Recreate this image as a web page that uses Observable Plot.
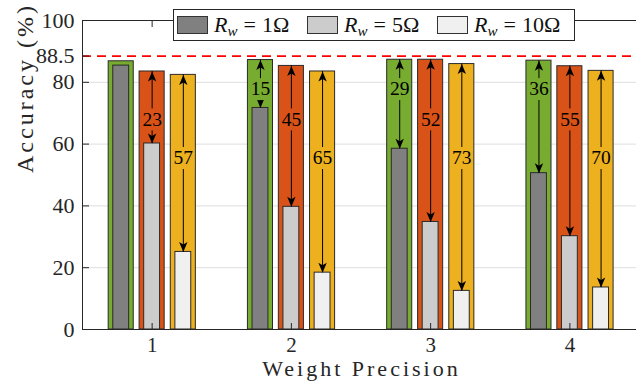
<!DOCTYPE html>
<html>
<head>
<meta charset="utf-8">
<script src="https://cdn.jsdelivr.net/npm/d3@7"></script>
<script src="https://cdn.jsdelivr.net/npm/@observablehq/plot@0.6"></script>
<style>
  html, body { margin: 0; padding: 0; background: #fff; }
  #wrap { position: relative; width: 636px; height: 386px; overflow: hidden; }
  #wrap svg text { font-family: 'Liberation Serif', 'Times New Roman', serif; }
  #legend {
    position: absolute; left: 173px; top: 9px; width: 400px; height: 30px;
    background: #fff; border: 1px solid #262626;
    font-family: 'Liberation Serif', 'Times New Roman', serif; font-size: 22px; color: #111;
  }
  .entry { position: absolute; top: 5px; height: 20px; display: flex; align-items: center; white-space: nowrap; }
  .sw { width: 31px; height: 18px; border: 1px solid #333; margin-right: 6px; box-sizing: border-box; }
  .entry sub { font-size: 15px; vertical-align: -4px; line-height: 0; }
  .eq { padding: 0 6px; }
</style>
</head>
<body>
<div id="wrap"></div>
<script>
// ---- data ----
const precision = [1, 2, 3, 4];
const seriesNames = ["1Ω", "5Ω", "10Ω"];
// ideal (wide, coloured) bars
const ideal1 = [86.8, 87.2, 87.3, 87.0];
const ideal5 = [83.5, 85.3, 87.3, 85.2];
const ideal10 = [82.4, 83.5, 85.9, 83.7];
// degraded (narrow) bars
const rw1 = [85.4, 71.7, 58.5, 50.6];
const rw5 = [60.2, 39.7, 34.8, 30.2];
const rw10 = [25.1, 18.4, 12.5, 13.6];
// drop annotations
const drop1 = [null, 15, 29, 36];
const drop5 = [23, 45, 52, 55];
const drop10 = [57, 65, 73, 70];
const yTicks = [0, 20, 40, 60, 80, 88.5, 100];
const gridTicks = [20, 40, 60, 80];
const target = 88.5;

// ---- styles ----
const wideColors = ["#77AC30", "#D95319", "#EDB120"];
const innerColors = ["#808080", "#CCCCCC", "#F0F0F0"];
const offsets = [-0.222, 0, 0.224];
const wideHalf = 0.09, narrowHalf = 0.057;
const labelLevel = [77.8, 68, 55.5];

const idealS = [ideal1, ideal5, ideal10];
const degS = [rw1, rw5, rw10];
const dropS = [drop1, drop5, drop10];

const rows = precision.flatMap((p, i) => [0, 1, 2].map(k => ({
  p, k, cx: p + offsets[k], ideal: idealS[k][i], deg: degS[k][i], drop: dropS[k][i]
})));
const arrows = rows.filter(d => d.drop != null);

const headUp = { draw(c) { c.moveTo(0, 0); c.lineTo(4.2, 10); c.lineTo(0, 7.5); c.lineTo(-4.2, 10); c.closePath(); } };
const headDown = { draw(c) { c.moveTo(0, 0); c.lineTo(4.2, -10); c.lineTo(0, -7.5); c.lineTo(-4.2, -10); c.closePath(); } };
const box = { draw(c) { c.rect(-11, -11, 22, 22); } };

const font = "'Liberation Serif', 'Times New Roman', serif";

const chart = Plot.plot({
  width: 636, height: 386,
  marginLeft: 82, marginRight: 0, marginTop: 20, marginBottom: 57,
  style: { fontFamily: font, fontSize: "22px", background: "white", color: "#262626" },
  x: { type: "linear", domain: [0.5, 4.5], range: [82, 639], axis: null },
  y: { domain: [0, 100], axis: null },
  color: { type: "identity" },
  marks: [
    Plot.ruleY(gridTicks, { stroke: "#dedede", strokeWidth: 1 }),
    Plot.rectY(rows, { x1: d => d.cx - wideHalf, x2: d => d.cx + wideHalf, y1: 0, y2: "ideal",
      fill: d => wideColors[d.k], stroke: "#2a2a2a", strokeWidth: 1 }),
    Plot.rectY(rows, { x1: d => d.cx - narrowHalf, x2: d => d.cx + narrowHalf, y1: 0, y2: "deg",
      fill: d => innerColors[d.k], stroke: "#2a2a2a", strokeWidth: 1 }),
    Plot.ruleY([target], { stroke: "#ff0000", strokeWidth: 1.8, strokeDasharray: "9,6" }),
    Plot.ruleX(arrows, { x: "cx", y1: "deg", y2: "ideal", stroke: "#000", strokeWidth: 1 }),
    Plot.dot(arrows, { x: "cx", y: "ideal", symbol: headUp, r: 4, fill: "#000", stroke: null }),
    Plot.dot(arrows, { x: "cx", y: "deg", symbol: headDown, r: 4, fill: "#000", stroke: null }),
    Plot.dot(arrows, { x: "cx", y: d => labelLevel[d.k], symbol: box, r: 4, fill: d => wideColors[d.k], stroke: null }),
    Plot.text(arrows, { x: "cx", y: d => labelLevel[d.k], text: d => String(d.drop), fontSize: 19.5, fill: "#000", fontFamily: font }),
    // axes lines / frame
    Plot.ruleX([0.5], { stroke: "#262626", strokeWidth: 1 }),
    Plot.ruleY([0, 100], { stroke: "#262626", strokeWidth: 1 }),
    Plot.axisY({ ticks: yTicks, tickSize: -7, tickPadding: 15, tickFormat: d => String(d), fontSize: 22, label: null, stroke: "#262626", fontFamily: font }),
    Plot.axisX({ ticks: precision, tickSize: -6, tickPadding: 14, tickFormat: d => String(d), fontSize: 21, label: null, stroke: "#262626", fontFamily: font }),
    Plot.axisX({ anchor: "top", ticks: precision, tickSize: -6, tickFormat: () => "", label: null, stroke: "#262626" }),
    Plot.text(["Weight Precision"], { frameAnchor: "bottom", dy: 46, dx: 2, text: d => d, fontSize: 22, fill: "#262626", fontFamily: font }),
    Plot.text(["Accuracy (%)"], { frameAnchor: "left", dx: -57, dy: -2, rotate: -90, text: d => d, fontSize: 24, fill: "#262626", fontFamily: font })
  ]
});

const wrap = document.getElementById("wrap");
wrap.appendChild(chart);
chart.querySelectorAll("text").forEach(t => {
  if (t.textContent === "Weight Precision") t.style.letterSpacing = "3px";
  if (t.textContent === "Accuracy (%)") t.style.letterSpacing = "3px";
});
const legend = document.createElement("div");
legend.id = "legend";
seriesNames.forEach((name, i) => {
  const e = document.createElement("div");
  e.className = "entry";
  e.style.left = (3 + i * 130) + "px";
  e.innerHTML = `<span class="sw" style="background:${innerColors[i]}"></span><span><i>R</i><sub><i>w</i></sub><span class="eq">=</span>${name}</span>`;
  legend.appendChild(e);
});
wrap.appendChild(legend);
</script>
</body>
</html>
